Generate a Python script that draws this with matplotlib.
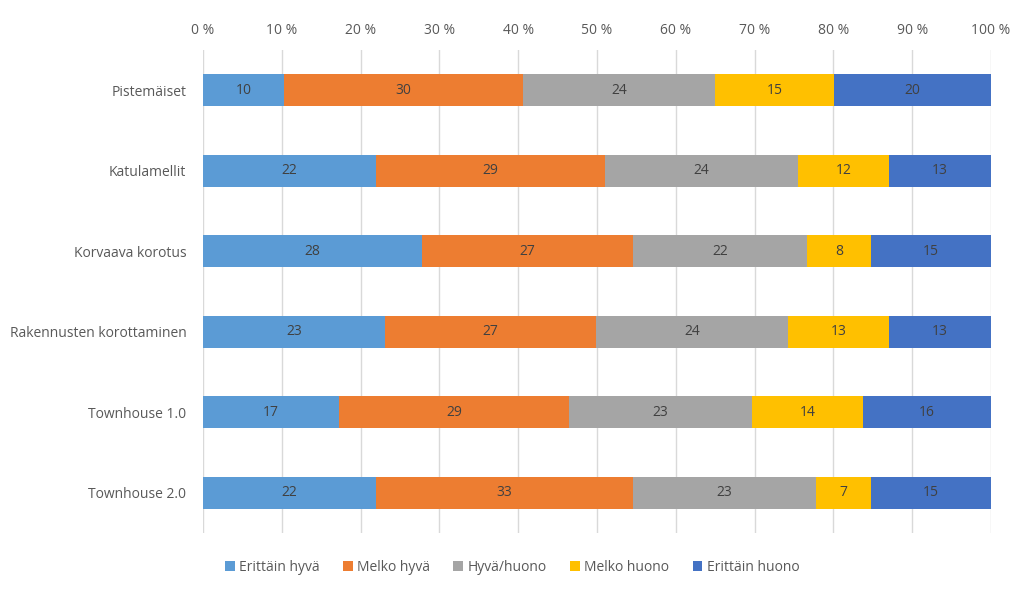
import numpy as np
import matplotlib.pyplot as plt
from matplotlib.patches import Patch

# Data (shares in %; labels show the rounded value)
categories = ["Pistemäiset", "Katulamellit", "Korvaava korotus",
              "Rakennusten korottaminen", "Townhouse 1.0", "Townhouse 2.0"]
series_names = ["Erittäin hyvä", "Melko hyvä", "Hyvä/huono", "Melko huono", "Erittäin huono"]
erittain_hyva = [10.3, 21.9, 27.8, 23.1, 17.3, 21.9]
melko_hyva = [30.3, 29.1, 26.8, 26.8, 29.1, 32.7]
hyva_huono = [24.4, 24.5, 22.0, 24.4, 23.3, 23.2]
melko_huono = [15.1, 11.6, 8.2, 12.8, 14.0, 7.0]
erittain_huono = [19.9, 12.9, 15.2, 12.9, 16.3, 15.2]
tick_values = list(range(0, 101, 10))

colors = ["#5B9BD5", "#ED7D31", "#A5A5A5", "#FFC000", "#4472C4"]

plt.rcParams['font.family'] = ['Open Sans', 'DejaVu Sans']

values = np.array([erittain_hyva, melko_hyva, hyva_huono, melko_huono, erittain_huono], dtype=float)
pct = values / values.sum(axis=0) * 100

fig = plt.figure(figsize=(10.24, 5.96), dpi=100)
ax = fig.add_axes([0.1982, 0.1057, 0.7696, 0.8104])

y = np.arange(len(categories))
left = np.zeros(len(categories))
for i, name in enumerate(series_names):
    ax.barh(y, pct[i], left=left, height=0.4, color=colors[i], zorder=2)
    for j in range(len(categories)):
        ax.text(left[j] + pct[i][j] / 2, y[j], f"{values[i][j]:.0f}",
                ha='center', va='center', fontsize=10, color='#404040', zorder=3)
    left += pct[i]

ax.set_xlim(0, 100)
ax.set_ylim(len(categories) - 0.5, -0.5)
ax.set_yticks(y)
ax.set_yticklabels(categories, fontsize=10, color='#595959')
ax.set_xticks(tick_values)
ax.set_xticklabels([f"{v} %" for v in tick_values], fontsize=10, color='#595959')
ax.xaxis.tick_top()
ax.tick_params(axis='both', length=0)
ax.tick_params(axis='x', pad=9)
ax.tick_params(axis='y', pad=12)
ax.grid(True, axis='x', color='#D9D9D9', linewidth=1, zorder=0)
for s in ax.spines.values():
    s.set_visible(False)

handles = [Patch(facecolor=c, edgecolor='none') for c in colors]
fig.legend(handles, series_names, loc='center', bbox_to_anchor=(0.5, 0.048), ncol=5,
           frameon=False, fontsize=10, handlelength=0.7, handleheight=0.7,
           handletextpad=0.3, columnspacing=1.7, labelcolor='#595959')

plt.savefig("out.png", dpi=100)
